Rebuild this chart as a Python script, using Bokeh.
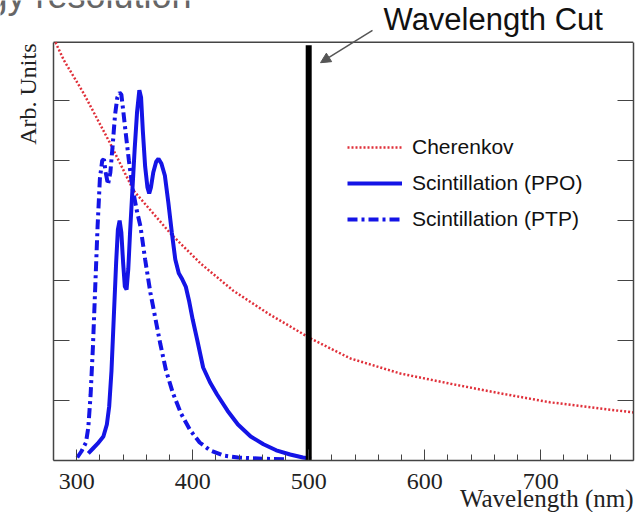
import math
from bokeh.plotting import figure
from bokeh.models import (Range1d, LinearAxis, FixedTicker, Legend, LegendItem,
                          Label, Arrow, NormalHead, Title)
from bokeh.embed import file_html
from bokeh.resources import INLINE

# ---- data ----
cher_wl = [281.7, 289, 306, 329, 349, 381, 407, 435, 465, 502, 536, 579, 622, 665, 708, 780]
cher_val = [6.97, 6.67, 6.12, 5.28, 4.50, 3.78, 3.28, 2.83, 2.45, 2.03, 1.70, 1.45, 1.28, 1.12, 0.97, 0.80]

ppo_wl = [310, 314, 318, 323, 326, 328, 330, 332, 334, 335.5, 337, 338.5, 340, 341.5, 343,
          344.5, 346, 348, 350, 352, 354, 355.5, 357, 359, 361, 362.5, 364, 366, 368.5,
          370.5, 373, 376, 379, 382, 385, 388, 391, 394, 397, 400, 404, 409, 415, 421,
          430, 439, 450, 461, 472, 484, 495, 502]
ppo_val = [0.12, 0.20, 0.28, 0.40, 0.60, 0.90, 1.50, 2.40, 3.30, 3.85, 4.00, 3.80, 3.30, 2.90, 2.85,
           3.20, 3.80, 4.50, 5.20, 5.80, 6.17, 6.05, 5.50, 4.90, 4.55, 4.45, 4.55, 4.80, 4.98,
           5.03, 4.95, 4.75, 4.30, 3.80, 3.35, 3.12, 3.02, 2.90, 2.65, 2.35, 2.00, 1.55, 1.30, 1.10,
           0.83, 0.60, 0.40, 0.27, 0.17, 0.10, 0.05, 0.03]

ptp_wl = [300.5, 304, 308, 310, 312, 314, 316, 318, 320, 322, 323.5, 325, 327, 329, 331, 333,
          335, 337, 338.5, 340, 342, 345, 348, 352, 355, 359, 363.5, 368, 372, 377, 383, 390,
          398, 406, 415, 427, 439, 460, 480]
ptp_val = [0.05, 0.15, 0.30, 0.55, 1.10, 1.90, 2.90, 3.90, 4.70, 5.00, 5.02, 4.80, 4.60, 4.80,
           5.25, 5.75, 6.05, 6.13, 6.10, 5.85, 5.50, 5.00, 4.55, 4.15, 3.90, 3.35, 2.80, 2.35,
           1.95, 1.50, 1.12, 0.78, 0.50, 0.30, 0.17, 0.08, 0.05, 0.03, 0.02]

x_major = [300, 400, 500, 600, 700]
x_minor = list(range(280, 781, 20))
y_major = [1, 2, 3, 4, 5, 6]
x_lo, x_hi = 280, 780          # plotted wavelength window
y_top = 6.97                   # top of the plotted window (arb. units)
cut_wl = 500
cut_top = 6.92

SERIF = "Liberation Serif"
SANS = "Liberation Sans"
RED = "#e0303a"
BLUE = "#1414e6"
FRAME = "#444444"

# frame covers the whole canvas except the bottom axis area; the plotted window
# [280,780] x [0,6.97] sits inside it so the texts above / left can be drawn in data units
p = figure(width=638, height=512, output_backend="svg", toolbar_location=None,
           x_range=Range1d(234.31, 780), y_range=Range1d(0, 7.667),
           min_border_left=0, min_border_right=5, min_border_top=0, min_border_bottom=52,
           y_axis_location=None)
p.xgrid.visible = False
p.ygrid.visible = False
p.outline_line_color = None

# bottom axis
xa = p.xaxis[0]
xa.bounds = (x_lo, x_hi)
xa.ticker = FixedTicker(ticks=x_major, minor_ticks=x_minor)
xa.major_tick_in = 11
xa.major_tick_out = 0
xa.minor_tick_in = 6
xa.minor_tick_out = 0
xa.axis_line_color = FRAME
xa.axis_line_width = 1.5
xa.major_tick_line_color = FRAME
xa.minor_tick_line_color = FRAME
xa.major_label_text_font = SERIF
xa.major_label_text_font_size = "24px"
xa.major_label_text_color = "#222222"
xa.major_label_standoff = 13

# left / right axes: ticks only
left_ax = LinearAxis(ticker=FixedTicker(ticks=y_major, minor_ticks=[]), fixed_location=x_lo,
                     bounds=(0, y_top),
                     major_tick_in=16, major_tick_out=0, minor_tick_in=0, minor_tick_out=0,
                     axis_line_color=FRAME, axis_line_width=1.5, major_tick_line_color=FRAME,
                     major_label_text_font_size="0px", major_label_text_color=None,
                     major_label_standoff=0)
p.add_layout(left_ax, "left")
right_ax = LinearAxis(ticker=FixedTicker(ticks=y_major, minor_ticks=[]),
                      bounds=(0, y_top),
                      major_tick_in=16, major_tick_out=0, minor_tick_in=0, minor_tick_out=0,
                      axis_line_color=FRAME, axis_line_width=1.5, major_tick_line_color=FRAME,
                      major_label_text_font_size="0px", major_label_text_color=None,
                      major_label_standoff=0)
p.add_layout(right_ax, "right")

# top edge of the plotted window
p.segment(x0=[x_lo], y0=[y_top], x1=[x_hi], y1=[y_top], line_color=FRAME, line_width=1.5)

# curves
r_cher = p.line(cher_wl, cher_val, line_color=RED, line_width=2.5, line_dash="2 2")
r_ppo = p.line(ppo_wl, ppo_val, line_color=BLUE, line_width=4)
r_ptp = p.line(ptp_wl, ptp_val, line_color=BLUE, line_width=4, line_dash="10 4 3 4")

# wavelength cut line
p.segment(x0=[cut_wl], y0=[0], x1=[cut_wl], y1=[cut_top], line_color="black", line_width=6)

legend = Legend(items=[LegendItem(label="Cherenkov", renderers=[r_cher]),
                       LegendItem(label="Scintillation (PPO)", renderers=[r_ppo]),
                       LegendItem(label="Scintillation (PTP)", renderers=[r_ptp])],
                location=(347, 229), border_line_alpha=0, background_fill_alpha=0,
                label_text_font=SANS, label_text_font_size="21px", label_text_color="#111111",
                glyph_width=55, glyph_height=24, label_height=24, spacing=12,
                label_standoff=10, padding=0, margin=0)
p.add_layout(legend, "center")

# texts
p.add_layout(Label(x=258.0, y=6.95, text="Arb. Units", angle=math.pi / 2,
                   text_align="right", text_baseline="middle",
                   text_font=SERIF, text_font_size="24px", text_color="#222222"))
p.add_layout(Label(x=564.5, y=7.347, text="Wavelength Cut",
                   text_align="left", text_baseline="alphabetic",
                   text_font=SANS, text_font_size="31px", text_color="#111111"))
p.add_layout(Label(x=399.0, y=7.75, text="Energy resolution",
                   text_align="right", text_baseline="alphabetic",
                   text_font=SANS, text_font_size="36px", text_color="#666666"))
p.add_layout(Arrow(x_start=555, y_start=7.17, x_end=510.2, y_end=6.63,
                   line_color="#555555", line_width=1.5,
                   end=NormalHead(size=10, fill_color="#555555", line_color="#555555")))
p.add_layout(Title(text="Wavelength (nm)", align="right", standoff=-17,
                   text_font=SERIF, text_font_size="25px", text_font_style="normal",
                   text_color="#222222"), "below")

open("out.html", "w").write(file_html(p, INLINE))
